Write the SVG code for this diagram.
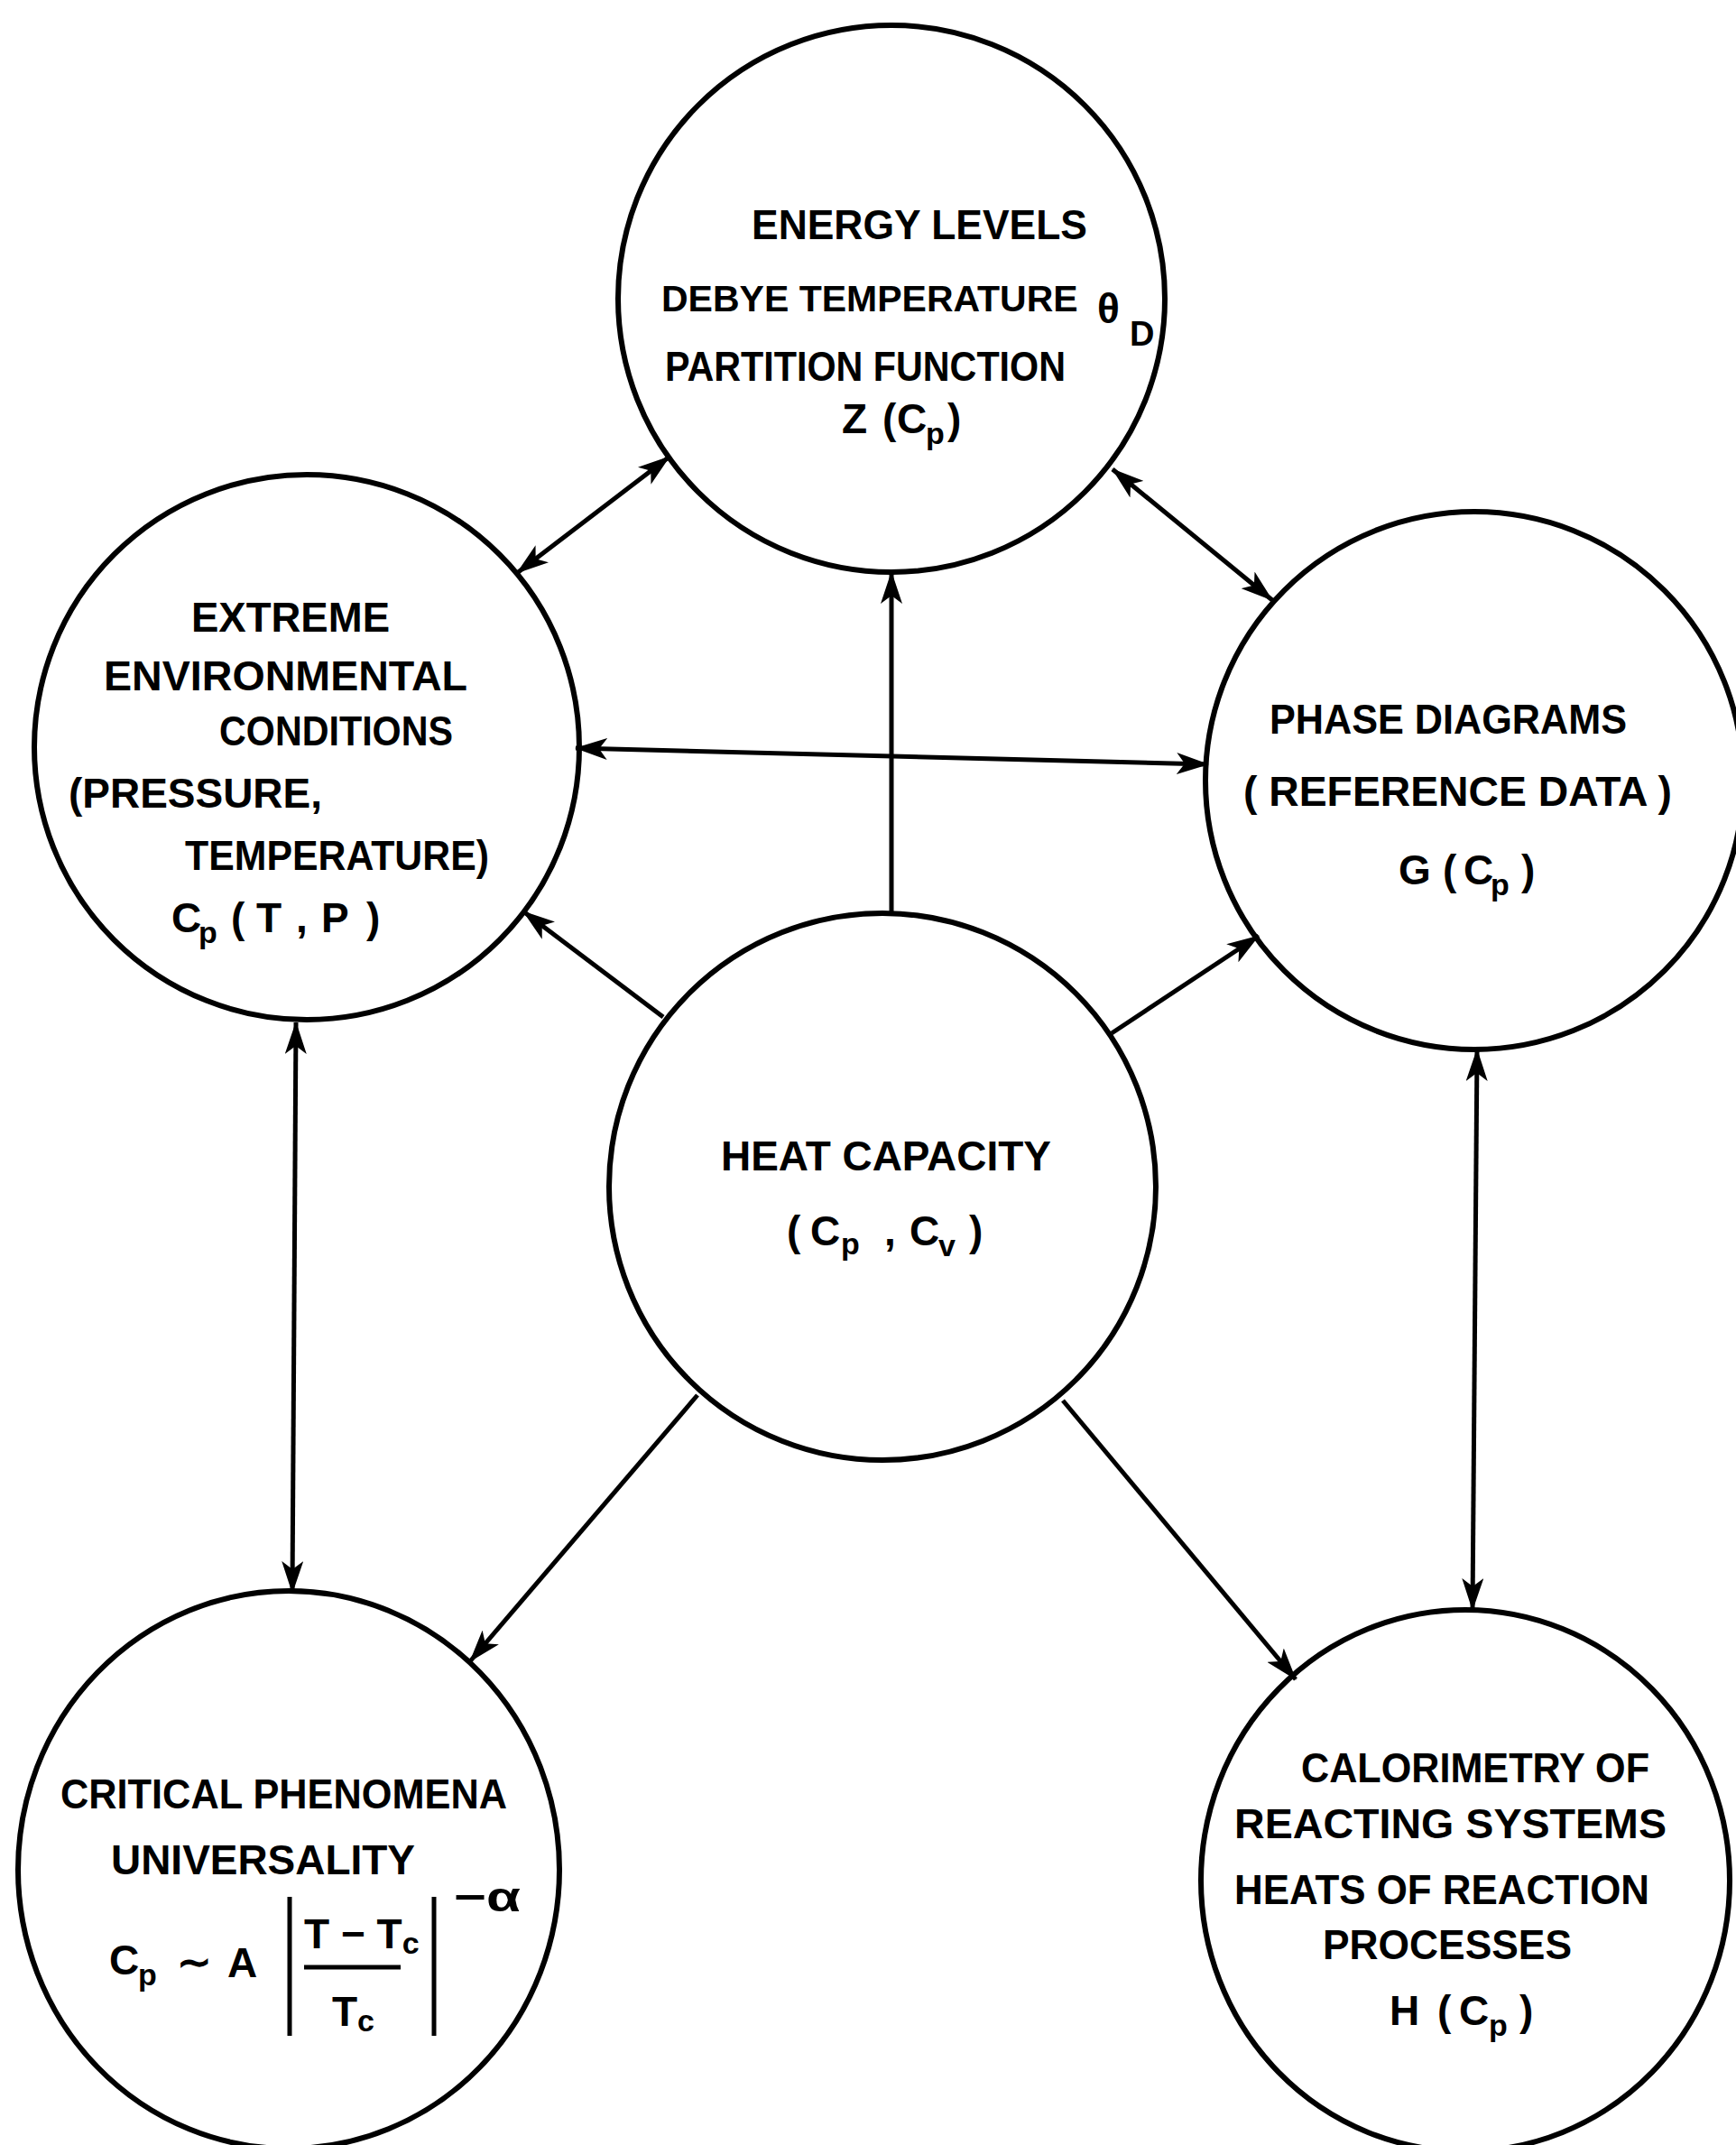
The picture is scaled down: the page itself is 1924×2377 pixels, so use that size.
<svg xmlns="http://www.w3.org/2000/svg" width="1924" height="2377" viewBox="0 0 1924 2377">
<defs>
<style>
.node circle,.node ellipse{fill:none;stroke:#000;stroke-width:6}
text{font-family:"Liberation Sans",Arial,sans-serif;font-size:46px;font-weight:bold;fill:#000}
.sub{font-size:34px}
.conn line{stroke:#000;stroke-width:5;fill:none}
.bar{stroke:#000;stroke-width:5}
</style>
<marker id="ah" viewBox="0 0 36 24" refX="35" refY="12" markerWidth="36" markerHeight="24" markerUnits="userSpaceOnUse" orient="auto-start-reverse">
<path d="M0,0 L36,12 L0,24 L9,12 z" fill="#000"/>
</marker>
</defs>
<rect width="1924" height="2377" fill="#fff"/>
<g id="connectors" class="conn">
<line x1="573" y1="635" x2="742" y2="506" marker-start="url(#ah)" marker-end="url(#ah)"/>
<line x1="1233" y1="520" x2="1410" y2="665" marker-start="url(#ah)" marker-end="url(#ah)"/>
<line x1="988" y1="1011" x2="988" y2="634" marker-end="url(#ah)"/>
<line x1="638" y1="829" x2="1339" y2="847" marker-start="url(#ah)" marker-end="url(#ah)"/>
<line x1="735" y1="1127" x2="580" y2="1010" marker-end="url(#ah)"/>
<line x1="1232" y1="1145" x2="1395" y2="1037" marker-end="url(#ah)"/>
<line x1="328" y1="1133" x2="324" y2="1765" marker-start="url(#ah)" marker-end="url(#ah)"/>
<line x1="1637" y1="1163" x2="1632" y2="1784" marker-start="url(#ah)" marker-end="url(#ah)"/>
<line x1="773" y1="1546" x2="521" y2="1841" marker-end="url(#ah)"/>
<line x1="1178" y1="1552" x2="1436" y2="1861" marker-end="url(#ah)"/>
</g>
<g id="energy" class="node">
<circle cx="988" cy="331" r="303"/>
<text x="833" y="265" textLength="372" lengthAdjust="spacingAndGlyphs">ENERGY LEVELS</text>
<text x="733" y="345" style="font-size:41px">DEBYE TEMPERATURE</text>
<text x="1216" y="358" style="font-size:46px">θ</text>
<text x="1252" y="383" style="font-size:38px">D</text>
<text x="737" y="422" textLength="444" lengthAdjust="spacingAndGlyphs">PARTITION FUNCTION</text>
<text y="480"><tspan x="933">Z</tspan><tspan x="978">(</tspan><tspan x="994">C</tspan><tspan x="1026" y="492" class="sub">p</tspan><tspan x="1050" y="480">)</tspan></text>
</g>
<g id="extreme" class="node">
<circle cx="340" cy="828" r="302"/>
<text x="212" y="700" textLength="220" lengthAdjust="spacingAndGlyphs">EXTREME</text>
<text x="115" y="765" textLength="403" lengthAdjust="spacingAndGlyphs">ENVIRONMENTAL</text>
<text x="243" y="826" textLength="259" lengthAdjust="spacingAndGlyphs">CONDITIONS</text>
<text x="76" y="895" textLength="281" lengthAdjust="spacingAndGlyphs">(PRESSURE,</text>
<text x="205" y="964" textLength="337" lengthAdjust="spacingAndGlyphs">TEMPERATURE)</text>
<text y="1033"><tspan x="190">C</tspan><tspan x="220" y="1045" class="sub">p</tspan><tspan x="256" y="1033">(</tspan><tspan x="284">T</tspan><tspan x="328">,</tspan><tspan x="356">P</tspan><tspan x="406">)</tspan></text>
</g>
<g id="phase" class="node">
<circle cx="1634" cy="865" r="298"/>
<text x="1407" y="813" textLength="396" lengthAdjust="spacingAndGlyphs">PHASE DIAGRAMS</text>
<text x="1378" y="893" textLength="475" lengthAdjust="spacingAndGlyphs">( REFERENCE DATA )</text>
<text y="980"><tspan x="1550">G</tspan><tspan x="1599">(</tspan><tspan x="1622">C</tspan><tspan x="1652" y="992" class="sub">p</tspan><tspan x="1686" y="980">)</tspan></text>
</g>
<g id="heat" class="node">
<circle cx="978" cy="1315" r="303"/>
<text x="799" y="1297" textLength="366" lengthAdjust="spacingAndGlyphs">HEAT CAPACITY</text>
<text y="1380"><tspan x="872">(</tspan><tspan x="898">C</tspan><tspan x="932" y="1390" class="sub">p</tspan><tspan x="980" y="1380">,</tspan><tspan x="1008">C</tspan><tspan x="1040" y="1392" class="sub">v</tspan><tspan x="1074" y="1380">)</tspan></text>
</g>
<g id="critical" class="node">
<ellipse cx="320" cy="2072" rx="300" ry="309"/>
<text x="67" y="2004" textLength="495" lengthAdjust="spacingAndGlyphs">CRITICAL PHENOMENA</text>
<text x="123" y="2077" textLength="337" lengthAdjust="spacingAndGlyphs">UNIVERSALITY</text>
<text y="2188"><tspan x="121">C</tspan><tspan x="153" y="2200" class="sub">p</tspan></text>
<text x="196" y="2190">∼</text>
<text x="252" y="2191">A</text>
<line class="bar" x1="321" y1="2102" x2="321" y2="2256"/>
<line class="bar" x1="481" y1="2102" x2="481" y2="2256"/>
<text x="337" y="2159">T − T<tspan class="sub" dy="6">c</tspan></text>
<line class="bar" x1="337" y1="2180" x2="444" y2="2180" stroke-width="4"/>
<text x="368" y="2245">T<tspan class="sub" dy="6">c</tspan></text>
<text x="503" y="2118" textLength="74" lengthAdjust="spacingAndGlyphs">−α</text>
</g>
<g id="calorimetry" class="node">
<ellipse cx="1624" cy="2084" rx="293" ry="300"/>
<text x="1442" y="1975" textLength="386" lengthAdjust="spacingAndGlyphs">CALORIMETRY OF</text>
<text x="1368" y="2037" textLength="479" lengthAdjust="spacingAndGlyphs">REACTING SYSTEMS</text>
<text x="1368" y="2110" textLength="460" lengthAdjust="spacingAndGlyphs">HEATS OF REACTION</text>
<text x="1466" y="2171" textLength="276" lengthAdjust="spacingAndGlyphs">PROCESSES</text>
<text y="2244"><tspan x="1540">H</tspan><tspan x="1593">(</tspan><tspan x="1617">C</tspan><tspan x="1650" y="2256" class="sub">p</tspan><tspan x="1684" y="2244">)</tspan></text>
</g>
</svg>
